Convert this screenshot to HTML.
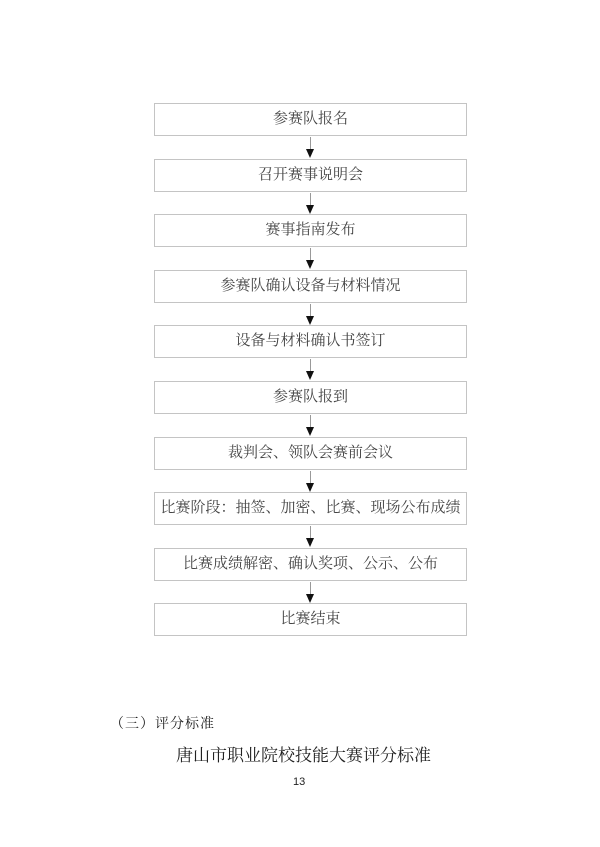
<!DOCTYPE html>
<html><head><meta charset="utf-8"><style>
body{margin:0;width:600px;height:847px;background:#fff;position:relative;font-family:"Liberation Serif","Noto Serif CJK SC",serif;color:#444;overflow:hidden}
.b{position:absolute;left:154px;width:311px;height:31px;border:1.5px solid #c4c4c4;text-align:center;line-height:31px;font-size:15px;white-space:nowrap}
.l{position:absolute;left:310px;width:1px;background:#999}
.t{position:absolute;left:306px;width:0;height:0;border-left:4px solid transparent;border-right:4px solid transparent;border-top:9px solid #111}
</style></head><body>
<div class="b" style="top:103px">参赛队报名</div>
<div class="b" style="top:158.6px">召开赛事说明会</div>
<div class="b" style="top:214.2px">赛事指南发布</div>
<div class="b" style="top:269.8px">参赛队确认设备与材料情况</div>
<div class="b" style="top:325.4px">设备与材料确认书签订</div>
<div class="b" style="top:381px">参赛队报到</div>
<div class="b" style="top:436.6px">裁判会、领队会赛前会议</div>
<div class="b" style="top:492.2px;font-size:15px">比赛阶段：抽签、加密、比赛、现场公布成绩</div>
<div class="b" style="top:547.8px">比赛成绩解密、确认奖项、公示、公布</div>
<div class="b" style="top:603.4px">比赛结束</div>
<div class="l" style="top:137px;height:14px"></div><div class="t" style="top:149px"></div>
<div class="l" style="top:192.6px;height:14px"></div><div class="t" style="top:204.6px"></div>
<div class="l" style="top:248.2px;height:14px"></div><div class="t" style="top:260.2px"></div>
<div class="l" style="top:303.8px;height:14px"></div><div class="t" style="top:315.8px"></div>
<div class="l" style="top:359.4px;height:14px"></div><div class="t" style="top:371.4px"></div>
<div class="l" style="top:415px;height:14px"></div><div class="t" style="top:427px"></div>
<div class="l" style="top:470.6px;height:14px"></div><div class="t" style="top:482.6px"></div>
<div class="l" style="top:526.2px;height:14px"></div><div class="t" style="top:538.2px"></div>
<div class="l" style="top:581.8px;height:14px"></div><div class="t" style="top:593.8px"></div>
<div style="position:absolute;left:110px;top:713px;font-size:14px;color:#222;letter-spacing:1px">（三）评分标准</div>
<div style="position:absolute;left:176px;top:741px;font-size:17px;color:#222">唐山市职业院校技能大赛评分标准</div>
<div style="position:absolute;left:293px;top:776px;font-size:11px;color:#222;font-family:'Liberation Sans',sans-serif">13</div>
</body></html>
